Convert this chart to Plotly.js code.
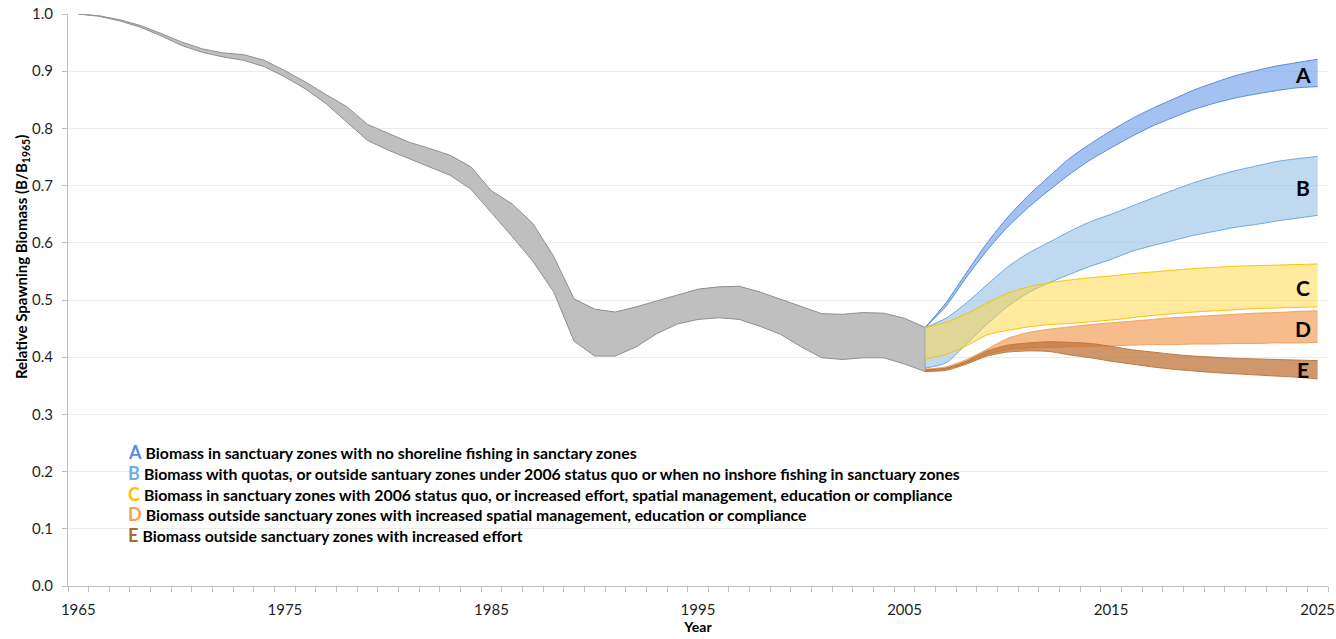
<!DOCTYPE html>
<html>
<head>
<meta charset="utf-8">
<script src="https://cdn.plot.ly/plotly-3.0.1.min.js"></script>
<style>
  html, body { margin: 0; padding: 0; background: #ffffff; }
  #chart { width: 1336px; height: 639px; }
</style>
</head>
<body>
<div id="chart"></div>
<script>
// ---------- DATA ----------
const histYears = [1965,1966,1967,1968,1969,1970,1971,1972,1973,1974,1975,1976,1977,1978,1979,1980,1981,1982,1983,1984,1985,1986,1987,1988,1989,1990,1991,1992,1993,1994,1995,1996,1997,1998,1999,2000,2001,2002,2003,2004,2005,2006];
const histUpper = [1.000,0.997,0.990,0.980,0.966,0.951,0.939,0.932,0.929,0.919,0.901,0.881,0.859,0.838,0.807,0.791,0.776,0.765,0.753,0.733,0.691,0.668,0.634,0.577,0.502,0.484,0.479,0.488,0.498,0.508,0.519,0.523,0.524,0.514,0.501,0.488,0.476,0.475,0.478,0.477,0.468,0.452];
const histLower = [1.000,0.996,0.988,0.977,0.962,0.945,0.933,0.925,0.919,0.908,0.890,0.869,0.843,0.811,0.779,0.762,0.747,0.732,0.718,0.694,0.653,0.611,0.568,0.515,0.428,0.402,0.402,0.418,0.441,0.458,0.466,0.469,0.466,0.454,0.440,0.418,0.399,0.396,0.399,0.399,0.388,0.375];

const projYears = [2006,2007,2008,2009,2010,2011,2012,2013,2014,2015,2016,2017,2018,2019,2020,2021,2022,2023,2024,2025];
const aUpper = [0.452,0.495,0.548,0.600,0.645,0.683,0.716,0.748,0.773,0.796,0.817,0.835,0.851,0.867,0.880,0.892,0.901,0.909,0.915,0.921];
const aLower = [0.452,0.489,0.540,0.587,0.628,0.662,0.692,0.720,0.745,0.766,0.786,0.804,0.819,0.833,0.844,0.853,0.860,0.866,0.871,0.873];
const bUpper = [0.452,0.468,0.495,0.527,0.558,0.582,0.601,0.620,0.637,0.650,0.664,0.678,0.692,0.705,0.716,0.726,0.734,0.742,0.747,0.751];
const bLower = [0.381,0.390,0.423,0.458,0.489,0.513,0.530,0.545,0.559,0.571,0.585,0.595,0.604,0.613,0.620,0.627,0.632,0.638,0.643,0.648];
const cUpper = [0.452,0.461,0.476,0.495,0.512,0.523,0.530,0.535,0.539,0.542,0.546,0.549,0.552,0.555,0.557,0.559,0.560,0.561,0.562,0.563];
const cLower = [0.397,0.405,0.420,0.439,0.447,0.453,0.457,0.459,0.462,0.465,0.469,0.473,0.476,0.479,0.481,0.483,0.485,0.486,0.487,0.488];
const dUpper = [0.379,0.383,0.396,0.414,0.433,0.443,0.449,0.453,0.457,0.460,0.463,0.466,0.469,0.471,0.473,0.475,0.477,0.478,0.480,0.481];
const dLower = [0.376,0.379,0.390,0.405,0.413,0.416,0.417,0.418,0.419,0.420,0.421,0.422,0.422,0.423,0.423,0.424,0.424,0.425,0.425,0.426];
const eUpper = [0.378,0.381,0.393,0.411,0.421,0.425,0.427,0.426,0.424,0.419,0.413,0.409,0.405,0.402,0.400,0.398,0.397,0.396,0.395,0.394];
const eLower = [0.375,0.377,0.388,0.402,0.409,0.411,0.410,0.404,0.399,0.393,0.388,0.383,0.379,0.376,0.373,0.371,0.369,0.367,0.365,0.362];

const bandLetters = ['A','B','C','D','E'];
const bandLabelY = [0.894,0.697,0.521,0.451,0.379];
const legendTexts = [
  'Biomass in sanctuary zones with no shoreline fishing in sanctary zones',
  'Biomass with quotas, or outside santuary zones under 2006 status quo or when no inshore fishing in sanctuary zones',
  'Biomass in sanctuary zones with 2006 status quo, or increased effort, spatial management, education or compliance',
  'Biomass outside sanctuary zones with increased spatial management, education or compliance',
  'Biomass outside sanctuary zones with increased effort'
];
const yTickVals = [0,0.1,0.2,0.3,0.4,0.5,0.6,0.7,0.8,0.9,1.0];
const yTickText = ['0.0','0.1','0.2','0.3','0.4','0.5','0.6','0.7','0.8','0.9','1.0'];
const xTickVals = [1965,1975,1985,1995,2005,2015,2025];
const yTitle = '<b>Relative Spawning Biomass (B/B<sub>1965</sub>)</b>';
const xTitle = '<b>Year</b>';

// ---------- STYLES ----------
const letterColors = ['#5a8ddb','#6eaee3','#ffc000','#f4a05a','#a86a30'];
const fillColors = ['rgba(115,162,235,0.66)','rgba(155,196,232,0.65)','rgba(255,214,60,0.5)','rgba(244,160,90,0.7)','rgba(190,112,48,0.72)'];
const lineColors = ['#5b8bd6','#6fa8dc','#ffc000','#f3a05c','#b87a45'];

const traces = [];
function band(x, lo, hi, fill, line, shape) {
  traces.push({x: x, y: lo, type: 'scatter', mode: 'lines', line: {color: line, width: 1, shape: shape, smoothing: 0.7}, hoverinfo: 'skip', showlegend: false});
  traces.push({x: x, y: hi, type: 'scatter', mode: 'lines', fill: 'tonexty', fillcolor: fill, line: {color: line, width: 1, shape: shape, smoothing: 0.7}, hoverinfo: 'skip', showlegend: false});
}
band(histYears, histLower, histUpper, '#bfbfbf', '#8f8f8f', 'linear');
traces.push({x: [histYears[histYears.length-1], histYears[histYears.length-1]], y: [histLower[histLower.length-1], histUpper[histUpper.length-1]], type: 'scatter', mode: 'lines', line: {color: '#8f8f8f', width: 1}, hoverinfo: 'skip', showlegend: false});
const uppers = [aUpper,bUpper,cUpper,dUpper,eUpper];
const lowers = [aLower,bLower,cLower,dLower,eLower];
for (let i = 0; i < 5; i++) band(projYears, lowers[i], uppers[i], fillColors[i], lineColors[i], 'spline');

const FONT = 'Lato, "Open Sans", sans-serif';
const annotations = [];
for (let i = 0; i < 5; i++) {
  annotations.push({x: 2024.3, y: bandLabelY[i], xref: 'x', yref: 'y', text: '<b>' + bandLetters[i] + '</b>', showarrow: false, xanchor: 'center', yanchor: 'middle', font: {family: FONT, size: 21, color: '#000'}});
}
const legY = [0.234,0.197,0.161,0.126,0.089];
for (let i = 0; i < 5; i++) {
  annotations.push({
    x: 0.0462, y: legY[i], xref: 'paper', yref: 'paper', xanchor: 'left', yanchor: 'middle', showarrow: false,
    text: '<span style="color:' + letterColors[i] + ';font-size:18px;font-weight:bold">' + bandLetters[i] + '</span> <b>' + legendTexts[i] + '</b>',
    font: {family: FONT, size: 15.8, color: '#000'}
  });
}
annotations.push({x: -0.0365, y: 0.575, xref: 'paper', yref: 'paper', xanchor: 'center', yanchor: 'middle', textangle: -90, showarrow: false, text: yTitle, font: {family: FONT, size: 15, color: '#000'}});

const layout = {
  width: 1336, height: 639,
  margin: {l: 68, r: 8, t: 14, b: 53, pad: 0},
  paper_bgcolor: '#ffffff', plot_bgcolor: '#ffffff',
  font: {family: FONT, color: '#262626'},
  showlegend: false,
  xaxis: {
    range: [1964.5, 2025.5], tickmode: 'array', tickvals: xTickVals,
    ticks: 'outside', ticklen: 10, tickcolor: 'rgba(0,0,0,0)',
    minor: {ticks: 'outside', dtick: 1, tick0: 1964.5, ticklen: 5, tickcolor: '#bfbfbf', showgrid: false},
    showgrid: false, zeroline: false, showline: true, linecolor: '#bfbfbf', linewidth: 1,
    tickfont: {family: FONT, size: 15, color: '#1f1f1f'},
    title: {text: xTitle, font: {family: FONT, size: 14, color: '#000'}, standoff: 4}
  },
  yaxis: {
    range: [0, 1.0], tickmode: 'array', tickvals: yTickVals, ticktext: yTickText,
    ticks: 'outside', ticklen: 5, tickcolor: '#bfbfbf', ticklabelstandoff: 6,
    showgrid: true, gridcolor: '#ececec', gridwidth: 1, zeroline: false,
    showline: true, linecolor: '#bfbfbf', linewidth: 1,
    tickfont: {family: FONT, size: 15, color: '#1f1f1f'}
  },
  shapes: [{type: 'rect', xref: 'paper', yref: 'paper', x0: 0.0397, x1: 0.7222, y0: 0.070, y1: 0.255, fillcolor: '#ffffff', line: {width: 0}, layer: 'below'}],
  annotations: annotations
};

Plotly.newPlot('chart', traces, layout, {displayModeBar: false, staticPlot: true});
</script>
</body>
</html>
